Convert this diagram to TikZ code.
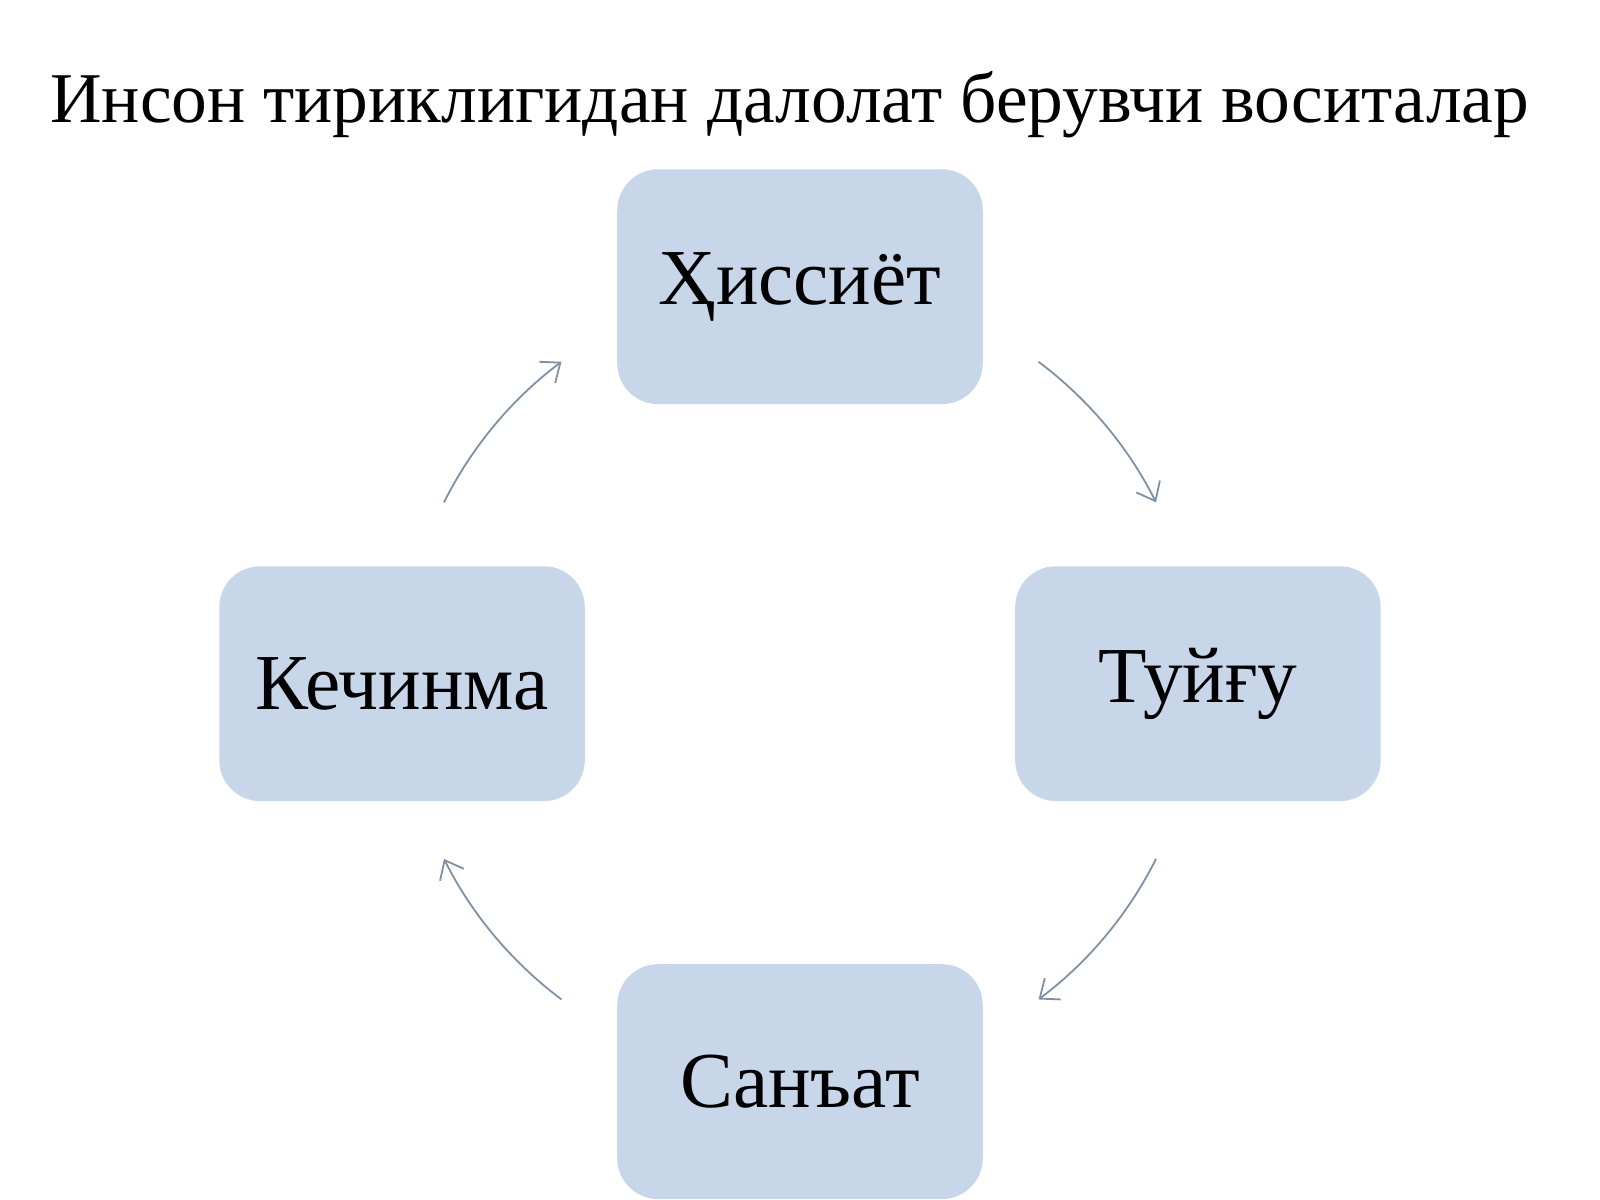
\documentclass[tikz,border=0pt]{standalone}
\usepackage{fontspec}
\setmainfont{Liberation Serif}
\usetikzlibrary{arrows.meta}
\definecolor{boxc}{RGB}{200,214,234}
\definecolor{arrc}{RGB}{125,145,165}
\begin{document}
\begin{tikzpicture}[x=0.01cm,y=-0.01cm,
  box/.style={fill=boxc,draw=none,rounded corners=0.4cm,minimum width=3.58cm,minimum height=2.3cm,font=\fontsize{22.1}{25}\selectfont,inner sep=0pt},
  arr/.style={draw=arrc,line width=0.5pt,-{Straight Barb[length=1.6mm,width=2.6mm]}}]
\useasboundingbox (0,0) rectangle (1568,1176);
\node[font=\fontsize{19.9}{23}\selectfont,anchor=base] (title) at (774,120) {Инсон тириклигидан далолат берувчи воситалар};
\node[box] (h) at (784,281) {Ҳиссиёт};
\node[box] (t) at (1174,670) {Туйғу};
\node[box] (s) at (784,1060) {Санъат};
\node[box] (k) at (394,670) {Кечинма};
\coordinate (c) at (784,667);
\draw[arr] ([shift={(53.2:3.9cm)}]c) arc[start angle=53.2,end angle=26.6,radius=3.9cm];
\draw[arr] ([shift={(-26.6:3.9cm)}]c) arc[start angle=-26.6,end angle=-53.2,radius=3.9cm];
\draw[arr] ([shift={(-126.8:3.9cm)}]c) arc[start angle=-126.8,end angle=-153.4,radius=3.9cm];
\draw[arr] ([shift={(153.4:3.9cm)}]c) arc[start angle=153.4,end angle=126.8,radius=3.9cm];
\end{tikzpicture}
\end{document}
